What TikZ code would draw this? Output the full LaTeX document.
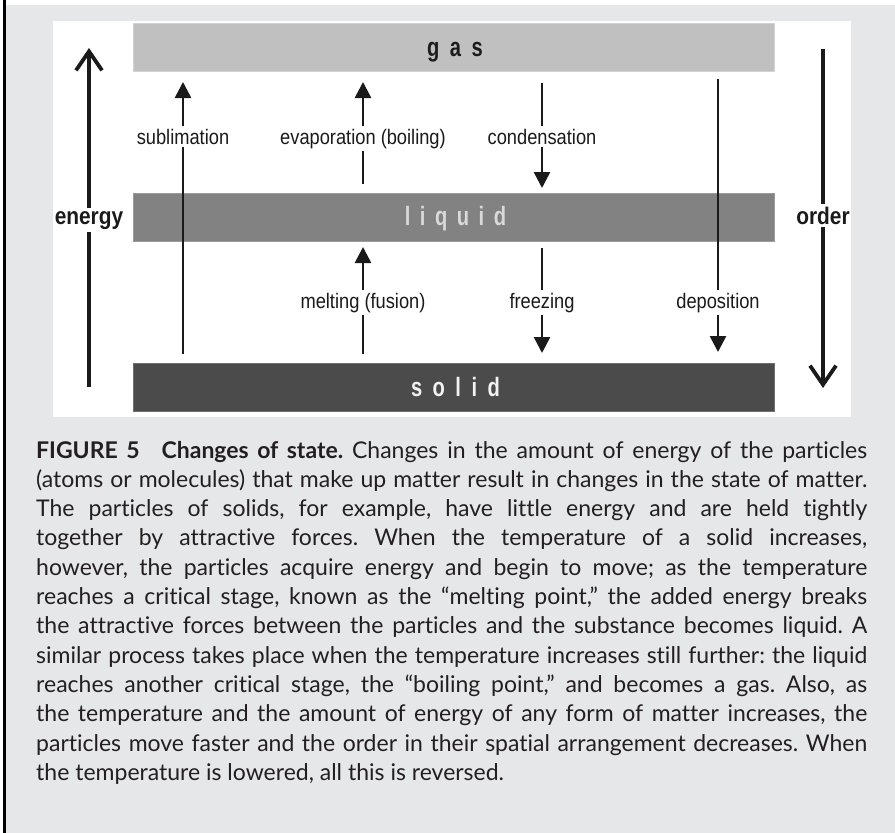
\documentclass[tikz,border=0pt]{standalone}
\usepackage{fontspec}
\usepackage{graphicx}
\usetikzlibrary{arrows.meta}
\newfontfamily\capfont[Ligatures=NoCommon]{Lato}
\newfontfamily\lblfont[FakeStretch=0.87]{Liberation Sans}
\newfontfamily\barfont[FakeStretch=0.76]{Liberation Sans}
\definecolor{pagegray}{HTML}{E6E7E8}
\definecolor{gasfill}{HTML}{C0C0C0}
\definecolor{liqfill}{HTML}{828282}
\definecolor{solfill}{HTML}{4B4B4B}
\definecolor{gastext}{HTML}{1C1C1C}
\definecolor{liqtext}{HTML}{D9D9D9}
\definecolor{soltext}{HTML}{F2F2F2}
\definecolor{ink}{HTML}{1A1A1A}
\definecolor{captext}{HTML}{231F20}
\newsavebox\capbox
\newcommand\capline[1]{\sbox\capbox{#1}\ifdim\wd\capbox>831pt\resizebox{831pt}{\height}{\usebox\capbox}\else\makebox[831pt][s]{#1}\fi}
\frenchspacing
\begin{document}
\begin{tikzpicture}[x=1pt,y=-1pt,
  bar/.style={rectangle, minimum width=641pt, minimum height=48pt, inner sep=0pt, line width=0.8pt},
  bartext/.style={anchor=base, inner sep=0pt, font=\barfont\bfseries\fontsize{26.5}{26.5}\selectfont},
  lbl/.style={fill=white, text=ink, font=\lblfont\fontsize{21}{21}\selectfont, inner xsep=3pt, inner ysep=2.5pt, anchor=base},
  biglbl/.style={fill=white, text=ink, font=\lblfont\bfseries\fontsize{24}{24}\selectfont, inner xsep=1pt, inner ysep=3pt, anchor=base},
  arr/.style={draw=ink, line width=2.6pt, -{Triangle[length=16pt,width=16pt]}},
  bigarr/.style={draw=ink, line width=3.8pt, -{Straight Barb[length=19pt,width=26pt]}},
  capt/.style={anchor=base west, inner sep=0pt, text=captext, font=\capfont\fontsize{23}{29}\selectfont}
]
\useasboundingbox (0,0) rectangle (895,833);
% page background
\fill[white] (0,0) rectangle (895,833);
\fill[pagegray] (5.7,5) rectangle (895,833);
\draw[black, line width=2.4pt] (4.5,0) -- (4.5,833);
\fill[white] (53,21) rectangle (851,417);
% bars
\node[bar, fill=gasfill, draw=gasfill!70!white] (gas) at (453.5,47.5) {};
\node[bar, fill=liqfill, draw=liqfill!80!white] (liquid) at (453.5,217.5) {};
\node[bar, fill=solfill, draw=solfill!80!white] (solid) at (453.5,387) {};
\node[bartext, text=gastext] (gastxt) at (455,56) {g\kern10.5pt a\kern10.5pt s};
\node[bartext, text=liqtext] (liqtxt) at (455.5,225) {l\kern9.5pt i\kern9.5pt q\kern9.5pt u\kern9.5pt i\kern9.5pt d};
\node[bartext, text=soltext] (soltxt) at (455.5,396) {s\kern10.5pt o\kern10.5pt l\kern10.5pt i\kern10.5pt d};
% energy / order
\coordinate (enS) at (89,387); \coordinate (enE) at (89,48);
\draw[bigarr] (enS) -- (enE);
\node[biglbl] (energy) at (89,224) {energy};
\coordinate (orS) at (823,49); \coordinate (orE) at (823,388);
\draw[bigarr] (orS) -- (orE);
\node[biglbl] (order) at (823,224) {order};
% transitions
\coordinate (subS) at (183,354); \coordinate (subE) at (183,82);
\coordinate (evaS) at (363,184); \coordinate (evaE) at (363,82);
\coordinate (conS) at (542,83);  \coordinate (conE) at (542,188);
\coordinate (depS) at (718,79);  \coordinate (depE) at (718,352);
\coordinate (melS) at (363,354); \coordinate (melE) at (363,247);
\coordinate (freS) at (542,248); \coordinate (freE) at (542,353);
\draw[arr] (subS) -- (subE);
\draw[arr] (evaS) -- (evaE);
\draw[arr] (conS) -- (conE);
\draw[arr] (depS) -- (depE);
\draw[arr] (melS) -- (melE);
\draw[arr] (freS) -- (freE);
\node[lbl] (sublbl) at (183,144) {sublimation};
\node[lbl] (evalbl) at (363,144) {evaporation (boiling)};
\node[lbl] (conlbl) at (542,144) {condensation};
\node[lbl] (mellbl) at (363,308) {melting (fusion)};
\node[lbl] (frelbl) at (542,308) {freezing};
\node[lbl] (deplbl) at (718,308) {deposition};
% caption
\node[capt] (cap1) at (36,458) {\capline{{\bfseries FIGURE 5\hspace{22pt}Changes of state.} Changes in the amount of energy of the particles}};
\node[capt] (cap2) at (36,487.3) {\capline{(atoms or molecules) that make up matter result in changes in the state of matter.}};
\node[capt] (cap3) at (36,516.6) {\capline{The particles of solids, for example, have little energy and are held tightly}};
\node[capt] (cap4) at (36,545.9) {\capline{together by attractive forces. When the temperature of a solid increases,}};
\node[capt] (cap5) at (36,575.2) {\capline{however, the particles acquire energy and begin to move; as the temperature}};
\node[capt] (cap6) at (36,604.5) {\capline{reaches a critical stage, known as the “melting point,” the added energy breaks}};
\node[capt] (cap7) at (36,633.8) {\capline{the attractive forces between the particles and the substance becomes liquid. A}};
\node[capt] (cap8) at (36,663.1) {\capline{similar process takes place when the temperature increases still further: the liquid}};
\node[capt] (cap9) at (36,692.4) {\capline{reaches another critical stage, the “boiling point,” and becomes a gas. Also, as}};
\node[capt] (cap10) at (36,721.7) {\capline{the temperature and the amount of energy of any form of matter increases, the}};
\node[capt] (cap11) at (36,751) {\capline{particles move faster and the order in their spatial arrangement decreases. When}};
\node[capt] (cap12) at (36,780.3) {the temperature is lowered, all this is reversed.};
\end{tikzpicture}
\end{document}
